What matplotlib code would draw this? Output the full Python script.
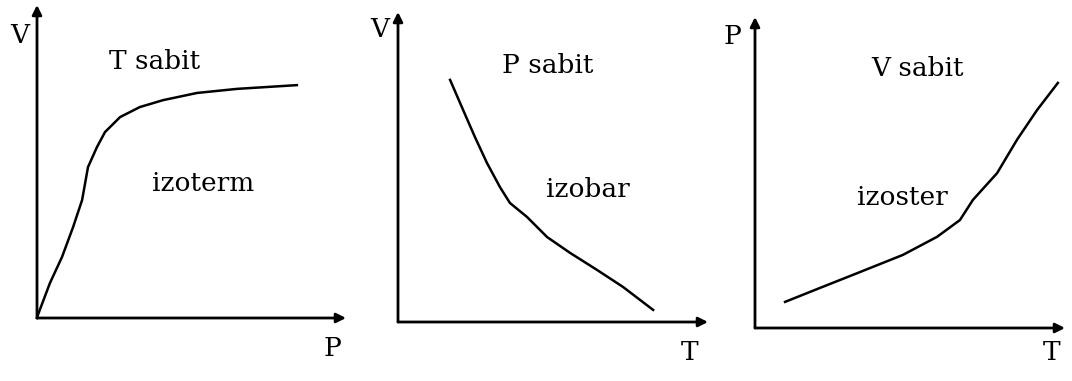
import matplotlib
matplotlib.use("Agg")
import matplotlib.pyplot as plt

# Izoterm: V vs P (T sabit)
iso_t_x = [0, 0.03, 0.42, 0.81, 1.17, 1.46, 1.65, 1.94, 2.20, 2.69, 3.33, 4.08, 5.18, 6.47, 8.41]
iso_t_y = [0, 0.10, 1.12, 1.95, 2.91, 3.77, 4.82, 5.46, 5.94, 6.42, 6.74, 6.96, 7.19, 7.32, 7.44]

# Izobar: V vs T (P sabit)
iso_p_x = [1.68, 2.10, 2.48, 2.87, 3.29, 3.61, 4.16, 4.81, 5.55, 6.42, 7.26, 8.23]
iso_p_y = [7.81, 6.84, 5.97, 5.13, 4.35, 3.84, 3.39, 2.74, 2.23, 1.68, 1.13, 0.39]

# Izoster: P vs T (V sabit)
iso_v_x = [0.97, 2.10, 3.39, 4.77, 5.87, 6.61, 7.03, 7.81, 8.45, 9.10, 9.77]
iso_v_y = [0.84, 1.29, 1.80, 2.35, 2.93, 3.47, 4.12, 4.98, 6.05, 7.01, 7.88]

panels = [
    dict(x0=37, x1=346, y0=318, y1=5, x=iso_t_x, y=iso_t_y,
         ylab="V", xlab="P", title="T sabit", name="izoterm",
         ylab_pos=(-0.55, 9.04), xlab_pos=(9.55, -0.96),
         title_pos=(3.79, 8.18), name_pos=(5.37, 4.31)),
    dict(x0=398, x1=708, y0=322, y1=12, x=iso_p_x, y=iso_p_y,
         ylab="V", xlab="T", title="P sabit", name="izobar",
         ylab_pos=(-0.58, 9.42), xlab_pos=(9.42, -1.0),
         title_pos=(4.84, 8.29), name_pos=(6.13, 4.26)),
    dict(x0=755, x1=1065, y0=328, y1=17, x=iso_v_x, y=iso_v_y,
         ylab="P", xlab="T", title="V sabit", name="izoster",
         ylab_pos=(-0.74, 9.36), xlab_pos=(9.58, -0.80),
         title_pos=(5.23, 8.36), name_pos=(4.77, 4.21)),
]

W, H = 1072, 381
fig = plt.figure(figsize=(W / 100, H / 100), dpi=100)
font = dict(family="DejaVu Serif", fontsize=19, color="black")

for p in panels:
    ax = fig.add_axes([p["x0"] / W, 1 - p["y0"] / H,
                       (p["x1"] - p["x0"]) / W, (p["y0"] - p["y1"]) / H])
    ax.set_xlim(0, 10)
    ax.set_ylim(0, 10)
    ax.axis("off")

    # axes with arrow heads
    arrow = dict(arrowstyle="-|>", color="black", lw=2,
                 mutation_scale=14, shrinkA=0, shrinkB=0)
    ax.annotate("", xy=(10, 0), xytext=(0, 0), arrowprops=arrow)
    ax.annotate("", xy=(0, 10), xytext=(0, 0), arrowprops=arrow)

    ax.plot(p["x"], p["y"], color="black", lw=1.8, clip_on=False,
            solid_joinstyle="round")

    ax.text(*p["ylab_pos"], p["ylab"], ha="center", va="center", **font)
    ax.text(*p["xlab_pos"], p["xlab"], ha="center", va="center", **font)
    ax.text(*p["title_pos"], p["title"], ha="center", va="center", **font)
    ax.text(*p["name_pos"], p["name"], ha="center", va="center", **font)

fig.savefig("out.png", dpi=100)
